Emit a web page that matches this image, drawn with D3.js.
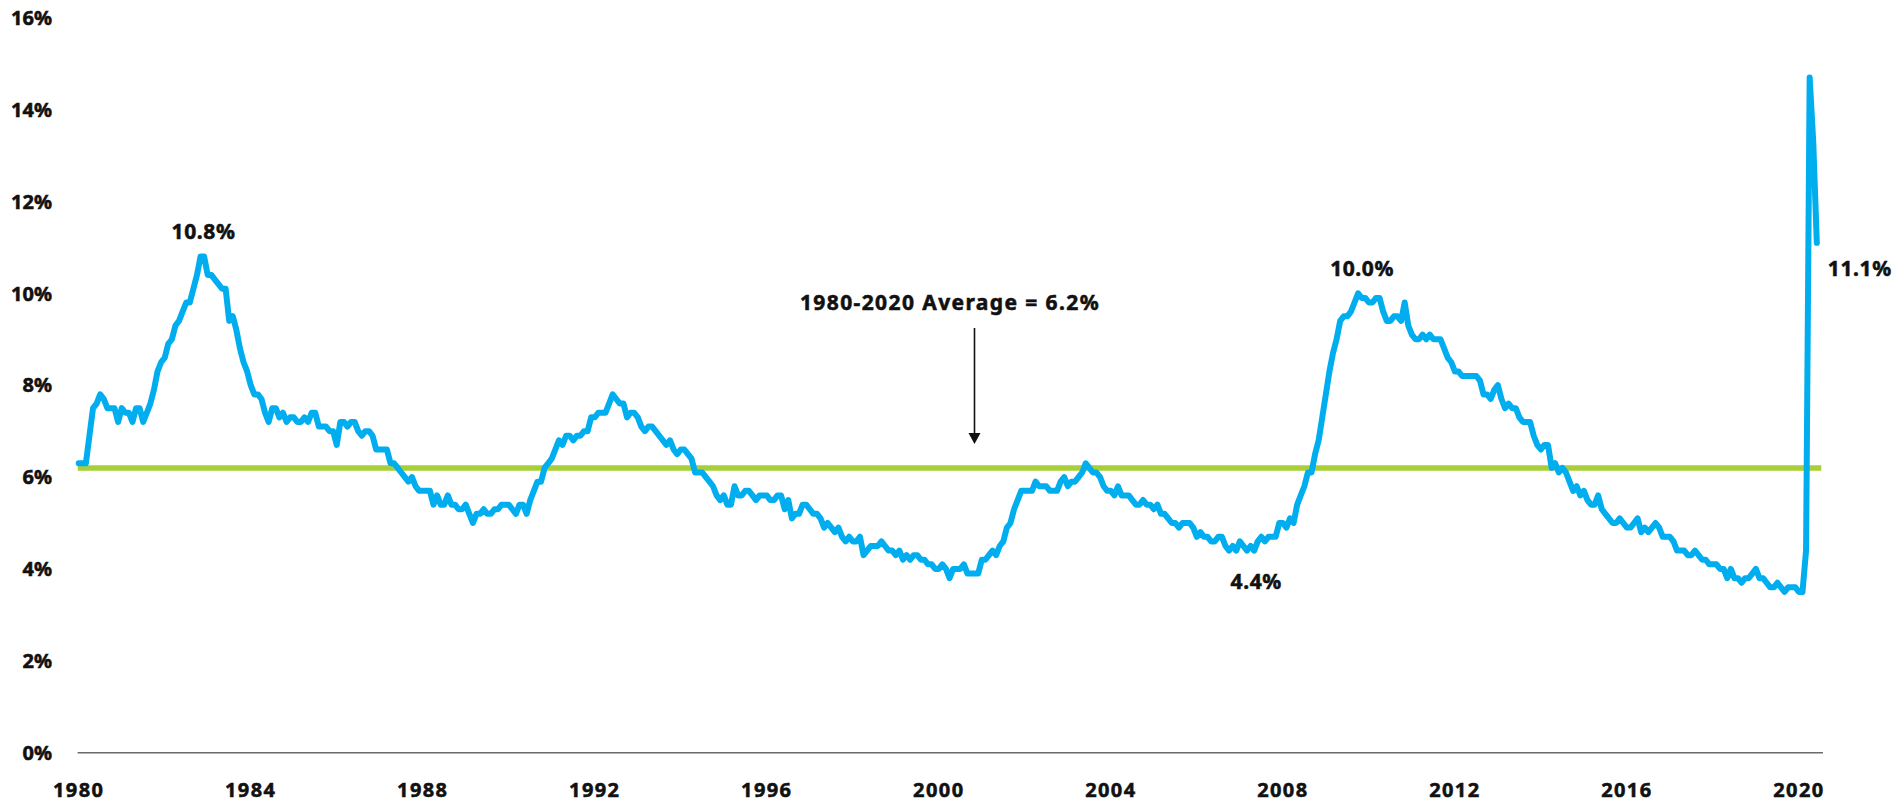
<!DOCTYPE html>
<html>
<head>
<meta charset="utf-8">
<script src="https://cdn.jsdelivr.net/npm/d3@7"></script>
<style>
  html, body { margin: 0; padding: 0; background: #ffffff; }
  svg { display: block; }
  text { font-family: "Noto Sans", "DejaVu Sans", sans-serif; font-weight: 700; fill: #111; stroke: #111; stroke-width: 0.55px; }
</style>
</head>
<body>
<svg id="chart" width="1896" height="805"></svg>
<script>
// Monthly unemployment rate (%), Jan 1980 - Jun 2020
const rates1980s = [
  6.3,6.3,6.3,6.9,7.5,7.6,7.8,7.7,7.5,7.5,7.5,7.2,
  7.5,7.4,7.4,7.2,7.5,7.5,7.2,7.4,7.6,7.9,8.3,8.5,
  8.6,8.9,9.0,9.3,9.4,9.6,9.8,9.8,10.1,10.4,10.8,10.8,
  10.4,10.4,10.3,10.2,10.1,10.1,9.4,9.5,9.2,8.8,8.5,8.3,
  8.0,7.8,7.8,7.7,7.4,7.2,7.5,7.5,7.3,7.4,7.2,7.3,
  7.3,7.2,7.2,7.3,7.2,7.4,7.4,7.1,7.1,7.1,7.0,7.0,
  6.7,7.2,7.2,7.1,7.2,7.2,7.0,6.9,7.0,7.0,6.9,6.6,
  6.6,6.6,6.6,6.3,6.3,6.2,6.1,6.0,5.9,6.0,5.8,5.7,
  5.7,5.7,5.7,5.4,5.6,5.4,5.4,5.6,5.4,5.4,5.3,5.3,
  5.4,5.2,5.0,5.2,5.2,5.3,5.2,5.2,5.3,5.3,5.4,5.4
];
const rates1990s = [
  5.4,5.3,5.2,5.4,5.4,5.2,5.5,5.7,5.9,5.9,6.2,6.3,
  6.4,6.6,6.8,6.7,6.9,6.9,6.8,6.9,6.9,7.0,7.0,7.3,
  7.3,7.4,7.4,7.4,7.6,7.8,7.7,7.6,7.6,7.3,7.4,7.4,
  7.3,7.1,7.0,7.1,7.1,7.0,6.9,6.8,6.7,6.8,6.6,6.5,
  6.6,6.6,6.5,6.4,6.1,6.1,6.1,6.0,5.9,5.8,5.6,5.5,
  5.6,5.4,5.4,5.8,5.6,5.6,5.7,5.7,5.6,5.5,5.6,5.6,
  5.6,5.5,5.5,5.6,5.6,5.3,5.5,5.1,5.2,5.2,5.4,5.4,
  5.3,5.2,5.2,5.1,4.9,5.0,4.9,4.8,4.9,4.7,4.6,4.7,
  4.6,4.6,4.7,4.3,4.4,4.5,4.5,4.5,4.6,4.5,4.4,4.4,
  4.3,4.4,4.2,4.3,4.2,4.3,4.3,4.2,4.2,4.1,4.1,4.0
];
const rates2000s = [
  4.0,4.1,4.0,3.8,4.0,4.0,4.0,4.1,3.9,3.9,3.9,3.9,
  4.2,4.2,4.3,4.4,4.3,4.5,4.6,4.9,5.0,5.3,5.5,5.7,
  5.7,5.7,5.7,5.9,5.8,5.8,5.8,5.7,5.7,5.7,5.9,6.0,
  5.8,5.9,5.9,6.0,6.1,6.3,6.2,6.1,6.1,6.0,5.8,5.7,
  5.7,5.6,5.8,5.6,5.6,5.6,5.5,5.4,5.4,5.5,5.4,5.4,
  5.3,5.4,5.2,5.2,5.1,5.0,5.0,4.9,5.0,5.0,5.0,4.9,
  4.7,4.8,4.7,4.7,4.6,4.6,4.7,4.7,4.5,4.4,4.5,4.4,
  4.6,4.5,4.4,4.5,4.4,4.6,4.7,4.6,4.7,4.7,4.7,5.0,
  5.0,4.9,5.1,5.0,5.4,5.6,5.8,6.1,6.1,6.5,6.8,7.3,
  7.8,8.3,8.7,9.0,9.4,9.5,9.5,9.6,9.8,10.0,9.9,9.9
];
const rates2010s = [
  9.8,9.8,9.9,9.9,9.6,9.4,9.4,9.5,9.5,9.4,9.8,9.3,
  9.1,9.0,9.0,9.1,9.0,9.1,9.0,9.0,9.0,8.8,8.6,8.5,
  8.3,8.3,8.2,8.2,8.2,8.2,8.2,8.1,7.8,7.8,7.7,7.9,
  8.0,7.7,7.5,7.6,7.5,7.5,7.3,7.2,7.2,7.2,6.9,6.7,
  6.6,6.7,6.7,6.2,6.3,6.1,6.2,6.1,5.9,5.7,5.8,5.6,
  5.7,5.5,5.4,5.4,5.6,5.3,5.2,5.1,5.0,5.0,5.1,5.0,
  4.9,4.9,5.0,5.1,4.8,4.9,4.8,4.9,5.0,4.9,4.7,4.7,
  4.7,4.6,4.4,4.4,4.4,4.3,4.3,4.4,4.3,4.2,4.2,4.1,
  4.1,4.1,4.0,4.0,3.8,4.0,3.8,3.8,3.7,3.8,3.8,3.9,
  4.0,3.8,3.8,3.7,3.6,3.6,3.7,3.6,3.5,3.6,3.6,3.6
];
const rates2020 = [3.5,3.5,4.4,14.7,13.3,11.1];

const startYear = 1980;
const averageRate = 6.2;
const averageLabel = "1980-2020 Average = 6.2%";
const yearTicks = [1980,1984,1988,1992,1996,2000,2004,2008,2012,2016,2020];
const rateTicks = [0,2,4,6,8,10,12,14,16];

// callouts: year, month index (0-11), value, label
const callouts = [
  {year: 1982, month: 10, value: 10.8, label: "10.8%"},
  {year: 2009, month: 9, value: 10.0, label: "10.0%"},
  {year: 2007, month: 4, value: 4.4, label: "4.4%"},
  {year: 2020, month: 5, value: 11.1, label: "11.1%"}
];

const allRates = [].concat(rates1980s, rates1990s, rates2000s, rates2010s, rates2020);
const data = allRates.map((v, i) => ({t: startYear + i / 12, v: v}));

const svg = d3.select("#chart");
const x = d3.scaleLinear().domain([1980, 2020]).range([78.7, 1798.9]);
const y = d3.scaleLinear().domain([0, 16]).range([752.7, 17.7]);

// x axis baseline
svg.append("line")
  .attr("x1", x(1979.975)).attr("x2", x(2020.56))
  .attr("y1", y(0)).attr("y2", y(0))
  .attr("stroke", "#6b6b6b").attr("stroke-width", 1.6);

// y tick labels
svg.append("g").selectAll("text").data(rateTicks).join("text")
  .attr("x", 52).attr("y", d => y(d)).attr("dy", "0.36em")
  .attr("text-anchor", "end").attr("font-size", 20)
  .text(d => d + "%");

// x tick labels
svg.append("g").selectAll("text").data(yearTicks).join("text")
  .attr("x", d => x(d)).attr("y", 797)
  .attr("text-anchor", "middle").attr("font-size", 20)
  .style("letter-spacing", "1.4px")
  .text(d => d);

// average line
svg.append("line")
  .attr("x1", x(1980) - 1).attr("x2", x(2020.52))
  .attr("y1", y(averageRate)).attr("y2", y(averageRate))
  .attr("stroke", "#a9cf38").attr("stroke-width", 5.5);

// series line
const line = d3.line().x(d => x(d.t)).y(d => y(d.v));
svg.append("path").datum(data)
  .attr("d", line)
  .attr("fill", "none")
  .attr("stroke", "#00aeef")
  .attr("stroke-width", 6)
  .attr("stroke-linejoin", "round")
  .attr("stroke-linecap", "round");

// average annotation
const arrowYear = 2000.83;
svg.append("text")
  .attr("x", x(2000.26)).attr("y", 310)
  .attr("text-anchor", "middle").attr("font-size", 21)
  .style("letter-spacing", "1.4px")
  .text(averageLabel);
svg.append("line")
  .attr("x1", x(arrowYear)).attr("x2", x(arrowYear))
  .attr("y1", 328).attr("y2", y(averageRate) - 34)
  .attr("stroke", "#111").attr("stroke-width", 1.6);
const tipY = y(averageRate) - 24;
svg.append("path")
  .attr("d", `M${x(arrowYear) - 6},${tipY - 11} L${x(arrowYear) + 6},${tipY - 11} L${x(arrowYear)},${tipY} Z`)
  .attr("fill", "#111");

// callout labels
const offsets = {
  "10.8%": {dx: 3, dy: -18, anchor: "middle"},
  "10.0%": {dx: 4, dy: -17, anchor: "middle"},
  "4.4%": {dx: 2, dy: 38, anchor: "middle"},
  "11.1%": {dx: 11, dy: 33, anchor: "start"}
};
svg.append("g").selectAll("text").data(callouts).join("text")
  .attr("x", d => x(d.year + d.month / 12) + offsets[d.label].dx)
  .attr("y", d => y(d.value) + offsets[d.label].dy)
  .attr("text-anchor", d => offsets[d.label].anchor)
  .attr("font-size", 21)
  .style("letter-spacing", "0.6px")
  .text(d => d.label);
</script>
</body>
</html>
